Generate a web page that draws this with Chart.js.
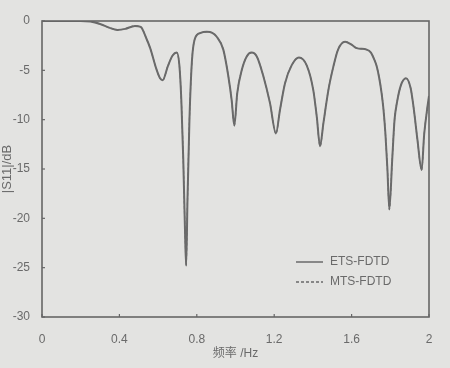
<!DOCTYPE html>
<html>
<head>
<meta charset="utf-8">
<script src="https://cdn.jsdelivr.net/npm/chart.js@4.4.1/dist/chart.umd.min.js"></script>
<style>
  html, body { margin: 0; padding: 0; background: #e3e3e1; }
  #wrap { width: 450px; height: 368px; }
</style>
</head>
<body>
<div id="wrap"><canvas id="c" width="450" height="368"></canvas></div>
<script>
// ---- data ----
const freq = [0, 0.1, 0.2, 0.25, 0.3, 0.35, 0.39, 0.43, 0.48, 0.51, 0.54, 0.56, 0.59, 0.61, 0.624, 0.65, 0.675, 0.696, 0.71, 0.72, 0.73, 0.74, 0.745, 0.752, 0.762, 0.775, 0.79, 0.82, 0.851, 0.88, 0.903, 0.937, 0.963, 0.98, 0.994, 1.009, 1.032, 1.058, 1.083, 1.11, 1.144, 1.178, 1.209, 1.23, 1.256, 1.29, 1.328, 1.368, 1.402, 1.42, 1.437, 1.454, 1.48, 1.506, 1.53, 1.566, 1.6, 1.626, 1.678, 1.7, 1.715, 1.73, 1.743, 1.755, 1.765, 1.775, 1.785, 1.795, 1.81, 1.822, 1.835, 1.855, 1.881, 1.905, 1.922, 1.94, 1.962, 1.975, 1.99, 2.0];
const etsFDTD = [0, 0, 0, -0.05, -0.3, -0.7, -0.9, -0.8, -0.5, -0.6, -1.8, -2.8, -4.8, -5.8, -6.0, -4.6, -3.5, -3.2, -4.5, -8, -14, -22, -24.8, -18, -10, -4, -1.8, -1.2, -1.1, -1.2, -1.6, -2.9, -5.6, -8, -10.6, -7.3, -5, -3.6, -3.2, -3.6, -5.6, -8.3, -11.4, -9.0, -6.3, -4.5, -3.7, -4.5, -7, -9.7, -12.7, -10.4, -7, -4.6, -2.9, -2.1, -2.4, -2.75, -2.9, -3.2, -3.8, -4.6, -5.8, -7.3, -9, -11.5, -15, -19.1, -14, -10, -8.2, -6.5, -5.8, -6.8, -9, -12, -15.1, -11.5, -9, -7.6];
const mtsFDTD = [0, 0, 0, -0.05, -0.3, -0.7, -0.9, -0.8, -0.5, -0.6, -1.8, -2.8, -4.8, -5.8, -6.0, -4.6, -3.5, -3.2, -4.5, -8, -14, -22, -24.8, -18, -10, -4, -1.8, -1.2, -1.1, -1.2, -1.6, -2.9, -5.6, -8, -10.6, -7.3, -5, -3.6, -3.2, -3.6, -5.6, -8.3, -11.4, -9.0, -6.3, -4.5, -3.7, -4.5, -7, -9.7, -12.7, -10.4, -7, -4.6, -2.9, -2.1, -2.4, -2.75, -2.9, -3.2, -3.8, -4.6, -5.8, -7.3, -9, -11.5, -15, -19.1, -14, -10, -8.2, -6.5, -5.8, -6.8, -9, -12, -15.1, -11.5, -9, -7.6];
const xTicks = [0, 0.4, 0.8, 1.2, 1.6, 2];
const xTickLabels = ['0', '0.4', '0.8', '1.2', '1.6', '2'];
const yTicks = [0, -5, -10, -15, -20, -25, -30];
const seriesNames = ['ETS-FDTD', 'MTS-FDTD'];
const xTitle = '频率 /Hz';
const yTitle = '|S11|/dB';

const lineColor = '#6a6a6a';
const axisColor = '#666666';
const textColor = '#6a6a6a';
const fontFam = '"Liberation Sans", Arial, "Noto Sans CJK SC", sans-serif';

const toXY = (vals) => freq.map((f, i) => ({ x: f, y: vals[i] }));

const framePlugin = {
  id: 'frame',
  afterDraw(chart) {
    const { ctx, chartArea: a, scales } = chart;
    ctx.save();
    ctx.strokeStyle = axisColor;
    ctx.lineWidth = 1.6;
    ctx.strokeRect(a.left, a.top, a.right - a.left, a.bottom - a.top);
    ctx.lineWidth = 1.2;
    xTicks.forEach(v => {
      const px = scales.x.getPixelForValue(v);
      ctx.beginPath(); ctx.moveTo(px, a.bottom); ctx.lineTo(px, a.bottom - 3); ctx.stroke();
    });
    yTicks.forEach(v => {
      const py = scales.y.getPixelForValue(v);
      ctx.beginPath(); ctx.moveTo(a.left, py); ctx.lineTo(a.left + 3, py); ctx.stroke();
    });
    // legend inside plot, bottom-right
    ctx.font = '12px ' + fontFam;
    ctx.textBaseline = 'middle';
    ctx.textAlign = 'left';
    chart.data.datasets.forEach((ds, i) => {
      const y = a.bottom - 55 + i * 20;
      ctx.strokeStyle = ds.borderColor;
      ctx.lineWidth = 1.5;
      ctx.setLineDash(ds.borderDash || []);
      ctx.beginPath(); ctx.moveTo(a.right - 133, y); ctx.lineTo(a.right - 106, y); ctx.stroke();
      ctx.setLineDash([]);
      ctx.fillStyle = textColor;
      ctx.fillText(ds.label, a.right - 99, y);
    });
    ctx.restore();
  }
};

new Chart(document.getElementById('c'), {
  type: 'line',
  data: {
    datasets: [
      { label: seriesNames[0], data: toXY(etsFDTD), borderColor: lineColor, borderWidth: 2, pointRadius: 0, cubicInterpolationMode: 'monotone', fill: false },
      { label: seriesNames[1], data: toXY(mtsFDTD), borderColor: lineColor, borderWidth: 1.2, borderDash: [3, 2], pointRadius: 0, cubicInterpolationMode: 'monotone', fill: false }
    ]
  },
  options: {
    responsive: false,
    animation: false,
    events: [],
    layout: { padding: { top: 21, right: 21, left: 0, bottom: 0 } },
    plugins: { legend: { display: false }, tooltip: { enabled: false } },
    scales: {
      x: {
        type: 'linear', min: 0, max: 2,
        afterBuildTicks: (s) => { s.ticks = xTicks.map(v => ({ value: v })); },
        afterFit: (s) => { s.height = 51; },
        grid: { display: false },
        border: { display: false },
        ticks: { padding: 7, color: textColor, font: { family: fontFam, size: 12 }, maxRotation: 0,
          callback: (v) => { const i = xTicks.indexOf(v); return i >= 0 ? xTickLabels[i] : ''; } },
        title: { display: true, text: xTitle, color: textColor, font: { family: fontFam, size: 12 }, padding: { top: 0, bottom: 7 } }
      },
      y: {
        type: 'linear', min: -30, max: 0,
        afterBuildTicks: (s) => { s.ticks = yTicks.map(v => ({ value: v })); },
        afterFit: (s) => { s.width = 42; },
        grid: { display: false },
        border: { display: false },
        ticks: { padding: 4, color: textColor, font: { family: fontFam, size: 12 } },
        title: { display: true, text: yTitle, color: textColor, font: { family: fontFam, size: 13 }, padding: { top: 0, bottom: 0 } }
      }
    }
  },
  plugins: [framePlugin]
});
</script>
</body>
</html>
